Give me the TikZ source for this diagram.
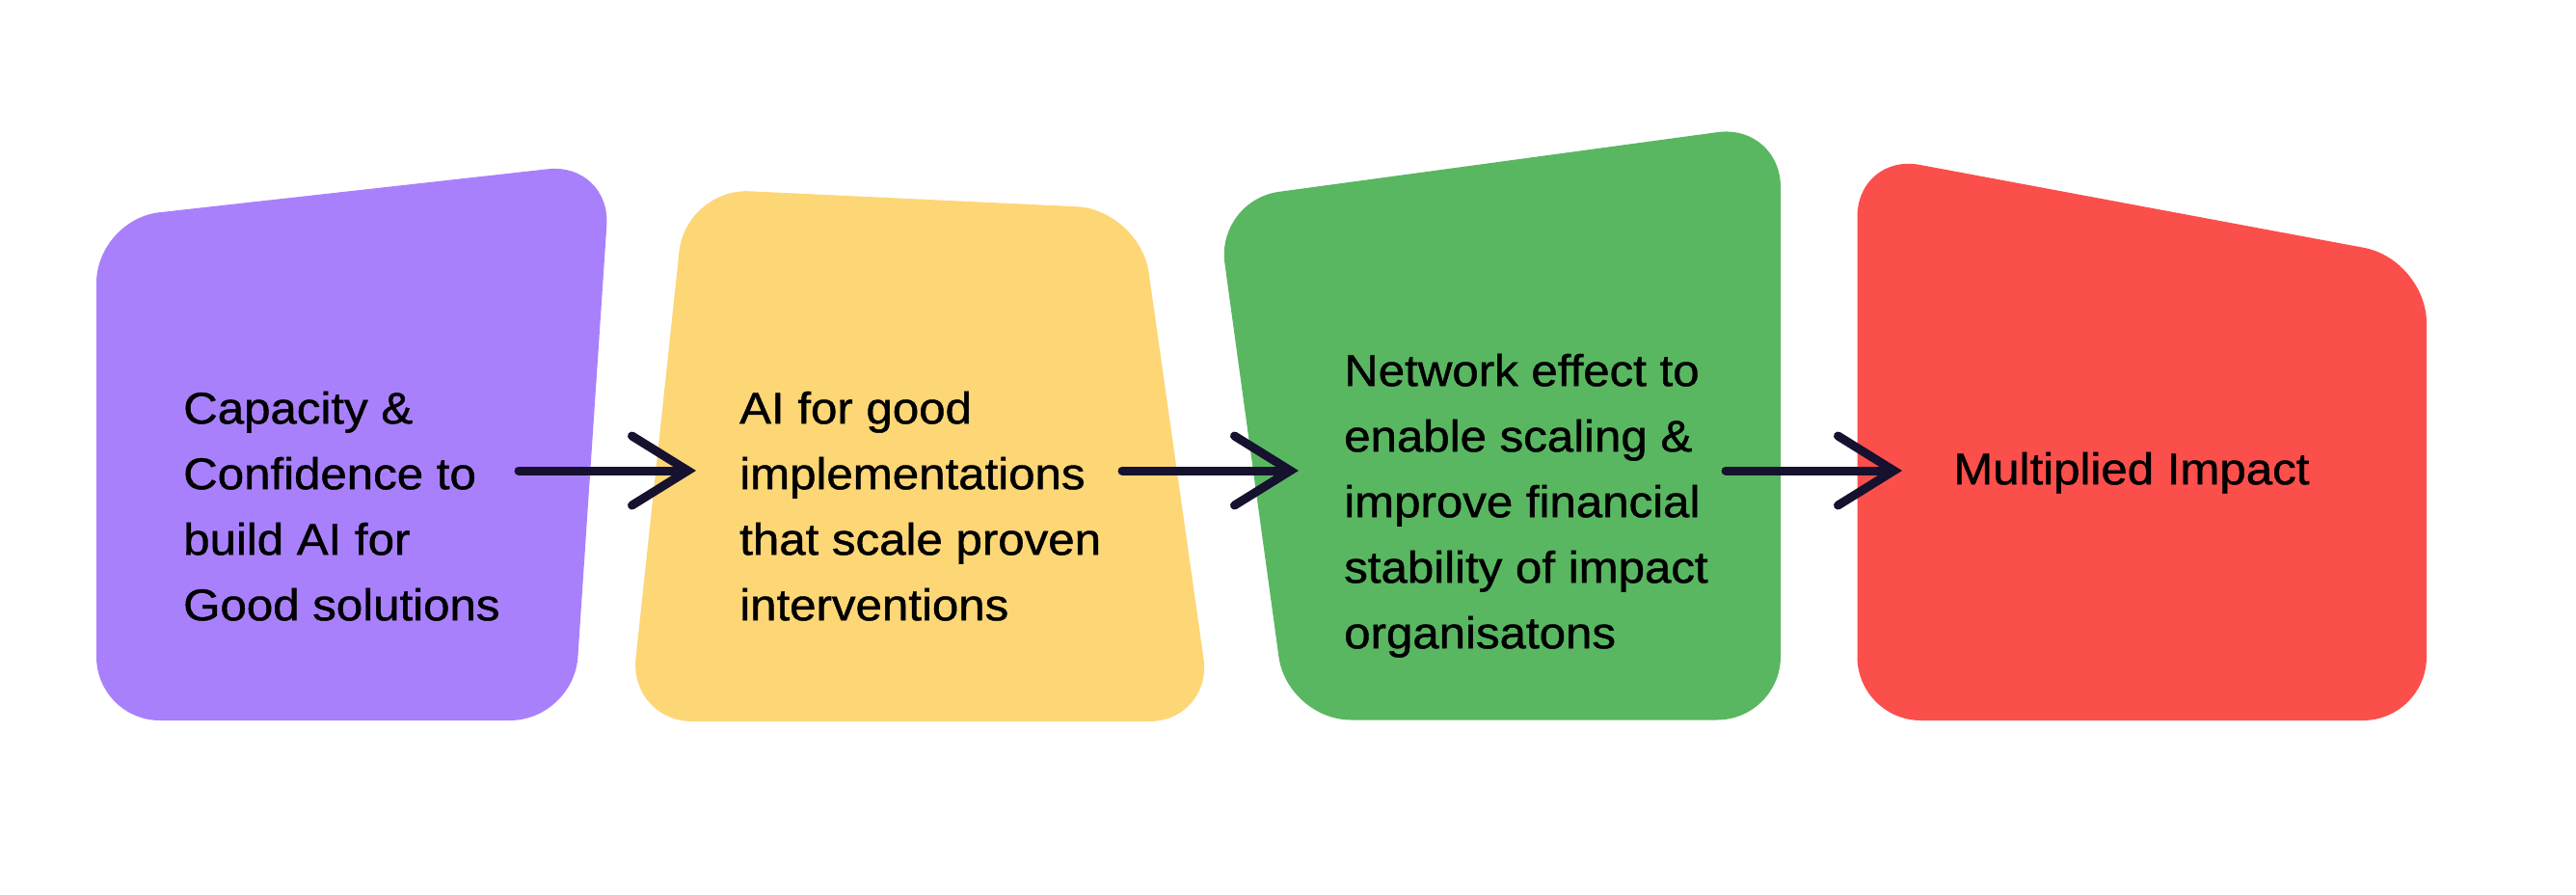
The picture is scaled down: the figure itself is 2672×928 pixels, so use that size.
\documentclass[tikz,border=0pt]{standalone}
\usepackage{fontspec}
\setmainfont{Liberation Sans}[BoldFont={Liberation Sans}, BoldFeatures={FakeBold=1, FakeStretch=1.07}]
\usetikzlibrary{arrows.meta}

\definecolor{lilac}{HTML}{A980FC}
\definecolor{sand}{HTML}{FDD676}
\definecolor{leaf}{HTML}{59B761}
\definecolor{coral}{HTML}{FB4F4C}
\definecolor{ink}{HTML}{15112E}

% strut for the first line of each text block
\newcommand{\firstline}{\rule{0pt}{40pt}}

\begin{document}
\begin{tikzpicture}[
    x=1pt, y=-1pt,
    panel/.style={
      rounded corners=66pt
    },
    blurb/.style={
      font=\fontsize{46}{68}\selectfont\bfseries,
      align=left,
      anchor=north west,
      inner sep=0pt,
      text=black
    },
    brush/.style={
      draw=ink,
      line width=9pt,
      line cap=round,
      -{Straight Barb[length=58pt, width=72pt, line cap=round]}
    }
  ]
    \useasboundingbox (0,0) rectangle (2672,928);

    % Panels
    \fill[panel, lilac] (100,227.5) -- (633.7,168) -- (595,747) -- (100,747) -- cycle;
    \fill[panel, sand] (711.5,195.2) -- (1182.3,217.3) -- (1257.7,748) -- (652.5,748) -- cycle;
    \fill[panel, leaf] (1261.4,207.7) -- (1847,128.2) -- (1847,746.5) -- (1335.4,746.5) -- cycle;
    \fill[panel, coral] (1926.5,158.8) -- (2517,269) -- (2517,747) -- (1926.5,747) -- cycle;

    % Texts
    \node (capacity) [blurb] at (190,399) {\firstline Capacity \&\\Confidence to\\build AI for\\Good solutions};
    \node (implement) [blurb] at (767,399) {\firstline AI for good\\implementations\\that scale proven\\interventions};
    \node (network) [blurb] at (1394,360) {\firstline Network effect to\\enable scaling \&\\improve financial\\stability of impact\\organisatons};
    \node (impact) [blurb] at (2026,462) {\firstline Multiplied Impact};

    % Arrow ends
    \coordinate (a1s) at (538,488);
    \coordinate (a1e) at (722,488);
    \coordinate (a2s) at (1164,488);
    \coordinate (a2e) at (1347,488);
    \coordinate (a3s) at (1790,488);
    \coordinate (a3e) at (1973,488);

    % Arrows
    \draw[brush] (a1s) -- (a1e);
    \draw[brush] (a2s) -- (a2e);
    \draw[brush] (a3s) -- (a3e);

  \end{tikzpicture}
\end{document}
